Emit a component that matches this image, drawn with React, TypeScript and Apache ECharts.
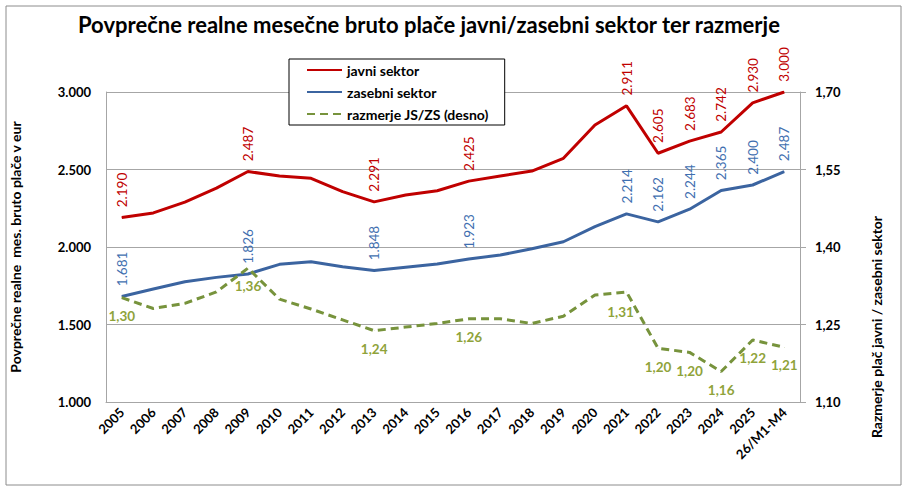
import React, { useEffect, useRef } from "react";
import * as echarts from "echarts";

const categories = ["2005", "2006", "2007", "2008", "2009", "2010", "2011", "2012", "2013", "2014", "2015", "2016", "2017", "2018", "2019", "2020", "2021", "2022", "2023", "2024", "2025", "26/M1-M4"];
const javni = [2190, 2220, 2290, 2380, 2487, 2458, 2443, 2357, 2291, 2335, 2363, 2425, 2458, 2490, 2572, 2787, 2911, 2605, 2683, 2742, 2930, 3000];
const zasebni = [1681, 1729, 1776, 1804, 1826, 1888, 1905, 1873, 1848, 1869, 1890, 1923, 1948, 1989, 2034, 2131, 2214, 2162, 2244, 2365, 2400, 2487];
const razmerje = [1.302, 1.281, 1.291, 1.313, 1.359, 1.299, 1.28, 1.259, 1.238, 1.245, 1.252, 1.261, 1.261, 1.252, 1.266, 1.307, 1.313, 1.204, 1.196, 1.159, 1.22, 1.206];
const labelIdx = [0, 4, 8, 11, 16, 17, 18, 19, 20, 21];
const leftTicks = { min: 1000, max: 3000, interval: 500 };
const rightTicks = { min: 1.1, max: 1.7, interval: 0.15 };

const FONT = "Lato";
const thousands = (v: number) => {
  const s = Math.round(v).toString();
  return s.replace(/\B(?=(\d{3})+(?!\d))/g, ".");
};
const comma2 = (v: number) => v.toFixed(2).replace(".", ",");

export default function App() {
  const ref = useRef<HTMLDivElement>(null);
  useEffect(() => {
    if (!ref.current) return;
    const chart = echarts.init(ref.current, undefined, { renderer: "svg" });
    const vLabel = (color: string) => ({
      show: true,
      position: "top",
      rotate: 90,
      align: "left",
      verticalAlign: "middle",
      distance: 10,
      color,
      fontFamily: FONT,
      fontSize: 13.5,
      formatter: (p: any) => thousands(p.value),
    });
    const mk = (arr: number[], label: any) =>
      arr.map((v, i) => (labelIdx.includes(i) ? { value: v, label } : { value: v, label: { show: false } }));

    const greenLabel = {
      show: true,
      position: "bottom",
      distance: 11,
      color: "#8fa33a",
      fontFamily: FONT,
      fontSize: 13.5,
      fontWeight: "bold",
      formatter: (p: any) => comma2(p.value),
    };
    const greenData = razmerje.map((v, i) => {
      if (!labelIdx.includes(i)) return { value: v, label: { show: false } };
      if (i === 16) return { value: v, label: { ...greenLabel, offset: [-6, 2] } };
      return { value: v, label: greenLabel };
    });

    const axisLabelStyle = { color: "#000", fontFamily: FONT, fontSize: 13, fontWeight: "bold" };
    const lineSeries = (name: string, data: any[], color: string, yAxisIndex: number, type: any) => ({
      name,
      type: "line",
      yAxisIndex,
      data,
      symbol: "circle",
      symbolSize: 0.5,
      showSymbol: true,
      lineStyle: { color, width: 3, type },
      itemStyle: { color },
      label: { show: false },
    });
    chart.setOption({
      animation: false,
      title: {
        text: "Povprečne realne mesečne bruto plače javni/zasebni sektor ter razmerje",
        left: 73,
        top: 8,
        textStyle: { fontFamily: FONT, fontSize: 22, fontWeight: "bold", color: "#000" },
      },
      legend: {
        orient: "vertical",
        left: 289,
        top: 59,
        padding: [4, 16, 4, 17],
        itemWidth: 35,
        itemHeight: 14,
        itemGap: 8,
        borderColor: "#000",
        borderWidth: 1,
        backgroundColor: "#fff",
        itemStyle: { opacity: 0 },
        textStyle: { fontFamily: FONT, fontSize: 14, fontWeight: "bold", color: "#000" },
        data: ["javni sektor", "zasebni sektor", "razmerje JS/ZS (desno)"],
      },
      grid: { left: 105, right: 108, top: 92, bottom: 88 },
      xAxis: {
        type: "category",
        data: categories,
        boundaryGap: true,
        axisLine: { lineStyle: { color: "#a6a6a6", width: 1 } },
        axisTick: { show: false },
        axisLabel: { ...axisLabelStyle, fontSize: 13, rotate: 45, margin: 8, interval: 0 },
      },
      yAxis: [
        {
          type: "value",
          ...leftTicks,
          position: "left",
          axisLine: { show: true, lineStyle: { color: "#a6a6a6" } },
          axisTick: { show: false },
          splitLine: { lineStyle: { color: "#a6a6a6" } },
          axisLabel: { ...axisLabelStyle, margin: 15, formatter: thousands },
          name: "Povprečne realne  mes. bruto plače v eur",
          nameLocation: "middle",
          nameRotate: 90,
          nameGap: 84,
          nameTextStyle: { fontFamily: FONT, fontSize: 14, fontWeight: "bold", color: "#000" },
        },
        {
          type: "value",
          ...rightTicks,
          position: "right",
          axisLine: { show: true, lineStyle: { color: "#a6a6a6" } },
          axisTick: { show: true, length: 6, lineStyle: { color: "#a6a6a6" } },
          splitLine: { show: false },
          axisLabel: { ...axisLabelStyle, margin: 15, formatter: comma2 },
        },
      ],
      graphic: [
        {
          type: "rect",
          shape: { x: 6, y: 6, width: 895, height: 479 },
          style: { fill: "none", stroke: "#8c8c8c", lineWidth: 1 },
          silent: true,
          z: -10,
        },
        {
          type: "text",
          x: 876,
          y: 327,
          rotation: Math.PI / 2,
          style: {
            text: "Razmerje plač javni / zasebni sektor",
            fontFamily: FONT,
            fontSize: 14,
            fontWeight: "bold",
            fill: "#000",
            align: "center",
            verticalAlign: "middle",
          },
        },
      ],
      series: [
        lineSeries("javni sektor", mk(javni, vLabel("#c00000")), "#c00000", 0, "solid"),
        lineSeries("zasebni sektor", mk(zasebni, vLabel("#3f6fb0")), "#3b64a0", 0, "solid"),
        lineSeries("razmerje JS/ZS (desno)", greenData, "#77933c", 1, [8, 5]),
      ],
    });
    return () => chart.dispose();
  }, []);
  return (
    <div
      ref={ref}
      style={{ position: "fixed", left: 0, top: 0, width: 908, height: 490, background: "#fff" }}
    />
  );
}
